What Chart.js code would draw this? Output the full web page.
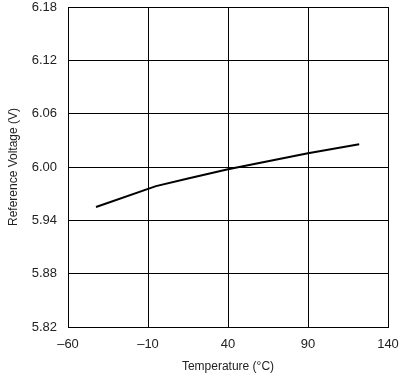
<!DOCTYPE html>
<html>
<head>
<meta charset="utf-8">
<script src="https://cdn.jsdelivr.net/npm/chart.js@4/dist/chart.umd.min.js"></script>
<style>
    html, body { margin: 0; padding: 0; background: #fff; }
    #wrap { width: 406px; height: 375px; }
</style>
</head>
<body>
<div id="wrap"><canvas id="ref-chart" width="406" height="375"></canvas></div>
<script>
// Data
const temperatures = [-42.5, -5, 15, 40, 65, 90, 122];
const voltages = [5.955, 5.9785, 5.9870, 5.9974, 6.0065, 6.0154, 6.0255];

// Axis ticks
const xTicks = [-60, -10, 40, 90, 140];
const yTicks = [5.82, 5.88, 5.94, 6.00, 6.06, 6.12, 6.18];

const textColor = '#222';
const gridColor = '#000';

// Keep Chart.js from adding extra room around the plot for label overflow
function clearPadding(axis) {
    axis.paddingTop = 0;
    axis.paddingBottom = 0;
    axis.paddingLeft = 0;
    axis.paddingRight = 0;
}

function initChart() {
    const ctx = document.getElementById('ref-chart').getContext('2d');

    new Chart(ctx, {
        type: 'line',
        data: {
            datasets: [{
                data: temperatures.map((t, i) => ({ x: t, y: voltages[i] })),
                borderColor: '#000',
                borderWidth: 2,
                pointRadius: 0,
                tension: 0,
                fill: false
            }]
        },
        options: {
            responsive: false,
            animation: false,
            layout: {
                padding: { left: 0, right: 18, top: 7, bottom: 0 }
            },
            plugins: {
                legend: { display: false },
                tooltip: { enabled: false }
            },
            scales: {
                x: {
                    type: 'linear',
                    min: -60,
                    max: 140,
                    afterBuildTicks: axis => { axis.ticks = xTicks.map(v => ({ value: v })); },
                    afterFit: axis => { axis.height = 48; clearPadding(axis); },
                    grid: { color: gridColor, lineWidth: 1, drawTicks: false },
                    border: { color: gridColor, width: 1 },
                    ticks: {
                        color: textColor,
                        padding: 10,
                        maxRotation: 0,
                        font: { family: 'Liberation Sans, Arial, sans-serif', size: 13 },
                        callback: value => String(value).replace('-', '\u2013')
                    },
                    title: {
                        display: true,
                        text: 'Temperature (°C)',
                        color: textColor,
                        padding: { top: 0, bottom: 1 },
                        font: { family: 'Liberation Sans, Arial, sans-serif', size: 12 }
                    }
                },
                y: {
                    type: 'linear',
                    min: 5.82,
                    max: 6.18,
                    afterBuildTicks: axis => { axis.ticks = yTicks.map(v => ({ value: v })); },
                    afterFit: axis => { axis.width = 68; clearPadding(axis); },
                    grid: { color: gridColor, lineWidth: 1, drawTicks: false },
                    border: { color: gridColor, width: 1 },
                    ticks: {
                        color: textColor,
                        padding: 11,
                        font: { family: 'Liberation Sans, Arial, sans-serif', size: 13 },
                        callback: value => Number(value).toFixed(2)
                    },
                    title: {
                        display: true,
                        text: 'Reference Voltage (V)',
                        color: textColor,
                        padding: { top: 6, bottom: 0 },
                        font: { family: 'Liberation Sans, Arial, sans-serif', size: 12 }
                    }
                }
            }
        }
    });
}

initChart();
</script>
</body>
</html>
